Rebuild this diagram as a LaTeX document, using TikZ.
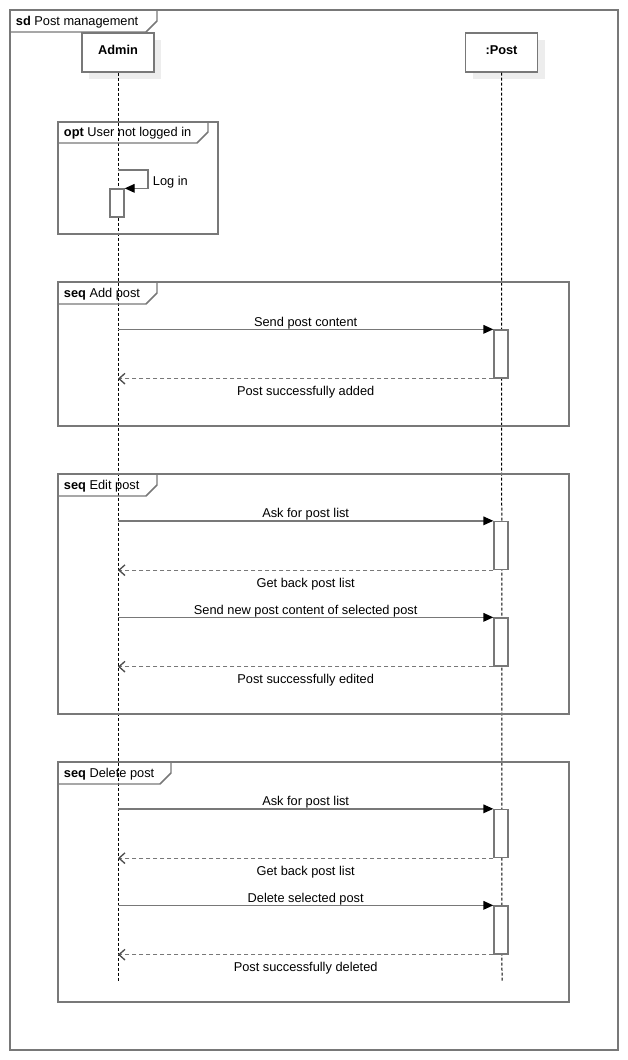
\documentclass[tikz,border=0pt]{standalone}
\usepackage{fontspec}
\setmainfont{Liberation Sans}
\usetikzlibrary{arrows.meta, calc, shadows}
\definecolor{grigio}{RGB}{120,120,120}
\newcommand{\linguetta}[5]{
\draw[bordo] (#1,#2) -- (#3,#2) -- (#3,#4-11) -- (#3-11,#4) -- (#1,#4);
\node[etich, anchor=west] at (#1+3,{(#2+#4)/2+1}) {#5};
}

\begin{document}
\begin{tikzpicture}[x=0.75pt, y=-0.75pt,
    bordo/.style = {draw=grigio, line width=1.1pt},
    etich/.style = {font=\fontsize{9.6}{11}\selectfont, inner sep=2pt},
    vita/.style = {draw=grigio, fill=white, line width=1.1pt, minimum width=54pt, minimum height=29.25pt,
        font=\fontsize{9.6}{11}\selectfont\bfseries, text depth=4pt,
        drop shadow={shadow xshift=5.5pt, shadow yshift=-5.5pt, fill=black!7, opacity=1}},
    linea/.style = {dash pattern=on 2.25pt off 1.5pt, line width=0.75pt},
    attiva/.style = {draw=grigio, fill=white, line width=1pt, minimum width=10.5pt, minimum height=36pt, inner sep=0pt},
    msg/.style = {draw=grigio, line width=1pt, -{Triangle[length=7.5pt, width=6.5pt, black]}},
    ritorno/.style = {draw=grigio, line width=1pt, dash pattern=on 3pt off 2.25pt,
        -{Straight Barb[length=4.5pt, width=8pt, black!70]}}]
    \useasboundingbox (0,0) rectangle (628,1060);

    % Cornice
    \draw[bordo] (10,10) rectangle (618,1050);
    \linguetta{10}{10}{157}{32}{\textbf{sd} Post management}

    % Partecipanti
    \node[vita] (admin) at (118,52.5) {Admin};
    \node[vita] (post) at (501.5,52.5) {:Post};
    \coordinate (fineA) at (118,982);
    \coordinate (fineP) at (502,982);
    \draw[linea] (admin) -- (fineA);
    \draw[linea] (post) -- (fineP);

    % opt: login
    \draw[bordo] (58,122) rectangle (218,234);
    \linguetta{58}{122}{208}{143}{\textbf{opt} User not logged in}
    \node[attiva, minimum height=21pt] (a0) at (117,203) {};
    \coordinate (login) at (118,170);
    \draw[msg] (login) -- ++(30,0) |- (a0.north east);
    \node[etich, anchor=west] at (150,182) {Log in};

    % seq: aggiunta
    \draw[bordo] (58,282) rectangle (569,426);
    \linguetta{58}{282}{157}{304}{\textbf{seq} Add post}
    \node[attiva] (a1) at (501,354) {};
    \draw[msg] (admin |- a1.north) -- (a1.north west) node[midway, above=-2pt, etich]{Send post content};
    \draw[ritorno] (a1.south west) -- (admin |- a1.south) node[midway, below=3.5pt, etich]{Post successfully added};

    % seq: modifica
    \draw[bordo] (58,474) rectangle (569,714);
    \linguetta{58}{474}{157}{496}{\textbf{seq} Edit post}
    \node[attiva] (a2) at (501,545.5) {};
    \draw[msg] (admin |- a2.north) -- (a2.north west) node[midway, above=-2pt, etich]{Ask for post list};
    \draw[ritorno] (a2.south west) -- (admin |- a2.south) node[midway, below=3.5pt, etich]{Get back post list};
    \node[attiva] (a3) at (501,642) {};
    \draw[msg] (admin |- a3.north) -- (a3.north west) node[midway, above=-2pt, etich]{Send new post content of selected post};
    \draw[ritorno] (a3.south west) -- (admin |- a3.south) node[midway, below=3.5pt, etich]{Post successfully edited};

    % seq: cancellazione
    \draw[bordo] (58,762) rectangle (569,1002);
    \linguetta{58}{762}{171}{784}{\textbf{seq} Delete post}
    \node[attiva] (a4) at (501,833.5) {};
    \draw[msg] (admin |- a4.north) -- (a4.north west) node[midway, above=-2pt, etich]{Ask for post list};
    \draw[ritorno] (a4.south west) -- (admin |- a4.south) node[midway, below=3.5pt, etich]{Get back post list};
    \node[attiva] (a5) at (501,930) {};
    \draw[msg] (admin |- a5.north) -- (a5.north west) node[midway, above=-2pt, etich]{Delete selected post};
    \draw[ritorno] (a5.south west) -- (admin |- a5.south) node[midway, below=3.5pt, etich]{Post successfully deleted};
\end{tikzpicture}
\end{document}
